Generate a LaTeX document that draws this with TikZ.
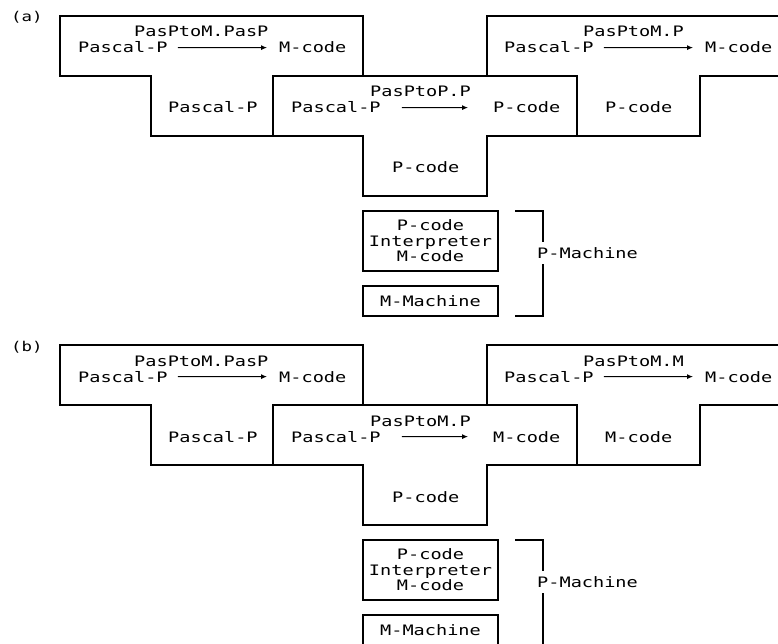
\documentclass[tikz,border=0pt]{standalone}
\usepackage{fontspec}
\newfontfamily\bmfont[FakeStretch=1.29]{DejaVu Sans Mono}
\usetikzlibrary{arrows.meta}
\tikzset{
  txt/.style={anchor=base west, inner sep=0pt, font=\bmfont\fontsize{14.4}{15.5}\selectfont},
  tag/.style={anchor=base west, inner sep=0pt, font=\bmfont\fontsize{13.5}{15}\selectfont},
  frame/.style={line width=1.5pt, line join=miter},
  arr/.style={line width=1pt, -{Latex[length=6pt,width=5pt]}},
  boxnode/.style={draw, line width=1.5pt, minimum width=135pt, align=center, inner sep=0pt,
    font=\bmfont\fontsize{14.4}{15.5}\selectfont},
}
\newcommand\mypart[7]{%
\begin{scope}[yshift=-#7pt]
  % T-diagrams
  \draw[frame] (60,16) -- (363,16) -- (363,76) -- (273,76) -- (273,136) -- (151,136) -- (151,76) -- (60,76) -- cycle;
  \draw[frame] (273,76) -- (577,76) -- (577,136) -- (487,136) -- (487,196) -- (363,196) -- (363,136) -- (273,136) -- cycle;
  \draw[frame] (487,16) -- (790,16) -- (790,76) -- (700,76) -- (700,136) -- (577,136) -- (577,76) -- (487,76) -- cycle;
  \node[tag] (#1tag) at (11,22) {#2};
  % left T
  \node[txt] (#1pl1) at (78,53) {Pascal-P};
  \node[txt] (#1mc1) at (279,53) {M-code};
  \node[txt] (#1lab1) at (134,37) {PasPtoM.PasP};
  \node[txt] (#1leg1) at (168,113) {Pascal-P};
  \draw[arr, shorten <=10pt, shorten >=12pt] (#1pl1.east) -- (#1mc1.west);
  % middle T
  \node[txt] (#1pl2) at (291,113) {Pascal-P};
  \node[txt] (#1pc2) at (493,113) {#4};
  \node[txt] (#1lab2) at (370,97) {#3};
  \node[txt] (#1leg2) at (392,173) {P-code};
  \draw[arr, shorten <=21pt, shorten >=25pt] (#1pl2.east) -- (#1pc2.west);
  % right T
  \node[txt] (#1pl3) at (504,53) {Pascal-P};
  \node[txt] (#1mc3) at (705,53) {M-code};
  \node[txt] (#1lab3) at (583,37) {#5};
  \node[txt] (#1leg3) at (605,113) {#6};
  \draw[arr, shorten <=10pt, shorten >=12pt] (#1pl3.east) -- (#1mc3.west);
  % machine boxes
  \node[boxnode, minimum height=60pt] (#1int) at (430.5,241) {P-code\\Interpreter\\M-code};
  \node[boxnode, minimum height=30pt] (#1mm) at (430.5,301) {M-Machine};
  \coordinate (#1bt) at (515,211);
  \coordinate (#1bb) at (515,316);
  \draw[frame] (#1bt) -- (543,211) -- (543,316) -- (#1bb);
  \node[txt, anchor=west, fill=white, minimum height=22pt] (#1pm) at (537,253) {P-Machine};
\end{scope}}
\begin{document}
\begin{tikzpicture}[x=1pt,y=-1pt]
\useasboundingbox (0,0) rectangle (778,644);
\clip (0,0) rectangle (778,644);
\mypart{a}{(a)}{PasPtoP.P}{P-code}{PasPtoM.P}{P-code}{0}
\mypart{b}{(b)}{PasPtoM.P}{M-code}{PasPtoM.M}{M-code}{329}
\end{tikzpicture}
\end{document}
